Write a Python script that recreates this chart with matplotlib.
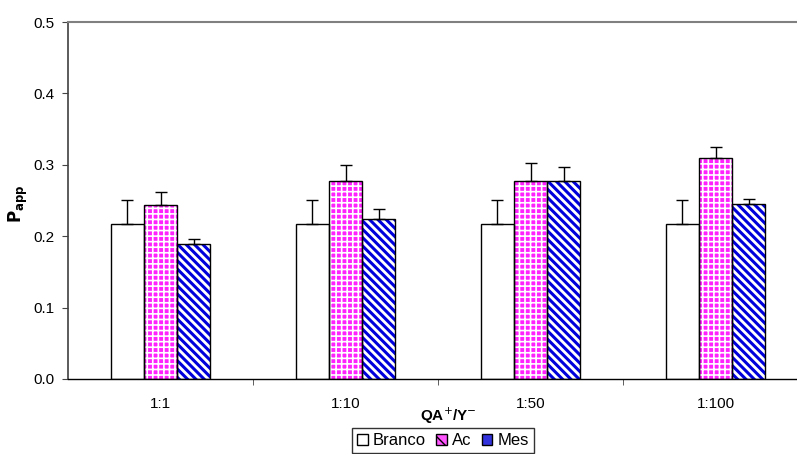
import numpy as np
import matplotlib.pyplot as plt
from matplotlib.patches import Patch

plt.rcParams['font.family'] = ['Liberation Sans', 'DejaVu Sans']

# data
categories = ["1:1", "1:10", "1:50", "1:100"]
series = ["Branco", "Ac", "Mes"]
branco = [0.217, 0.217, 0.217, 0.217]
branco_err = [0.034, 0.034, 0.034, 0.034]
ac = [0.243, 0.278, 0.277, 0.309]
ac_err = [0.019, 0.022, 0.025, 0.016]
mes = [0.189, 0.224, 0.277, 0.245]
mes_err = [0.007, 0.014, 0.020, 0.007]

fig = plt.figure(figsize=(7.97, 4.54), dpi=100)
# axes runs slightly past the right edge of the figure, like the original
ax = fig.add_axes([68 / 797, 1 - 379 / 454, 740 / 797, 357 / 454])

x = np.arange(len(categories))
w = 0.18
vals = [branco, ac, mes]
errs = [branco_err, ac_err, mes_err]
faces = ["white", "#ff22ff", "white"]
hatches = [None, "+++", "\\\\\\\\"]
hatch_cols = ["white", "white", "#0000dd"]
hatch_lw = [1.0, 1.2, 2.2]

for i in range(3):
    xs = x + (i - 1) * w
    plt.rcParams['hatch.linewidth'] = hatch_lw[i]
    # hatch layer
    ax.bar(xs, vals[i], w, color=faces[i], hatch=hatches[i],
           edgecolor=hatch_cols[i], linewidth=0, zorder=2)
    # outline + error bar
    ax.bar(xs, vals[i], w, fill=False, edgecolor="black", linewidth=1.0,
           yerr=[np.zeros(4), errs[i]], capsize=4,
           error_kw=dict(elinewidth=1.0, capthick=1.0, ecolor="black"),
           zorder=3)

ax.set_xlim(-0.5, 3.5)
ax.set_ylim(0, 0.5)
yt = np.arange(0, 0.51, 0.1)
ax.set_yticks(yt)
ax.set_yticklabels([f"{v:.1f}" for v in yt], fontsize=11)
ax.set_xticks(x)
ax.set_xticklabels(categories, fontsize=11)
ax.tick_params(axis="x", length=0, pad=13)
ax.set_xticks([0.5, 1.5, 2.5], minor=True)
ax.tick_params(axis="x", which="minor", length=4, direction="out", color="#444444")
ax.tick_params(axis="y", length=4.5, direction="out", color="#444444", pad=5)

ax.spines["right"].set_visible(False)
ax.spines["top"].set_color("#808080")
ax.spines["top"].set_linewidth(1.5)
ax.spines["left"].set_color("#404040")
ax.spines["left"].set_linewidth(1.2)
ax.spines["bottom"].set_linewidth(1.0)

fig.text(18 / 797, 1 - 204 / 454, r"$\mathbf{P_{app}}$", rotation=90,
         ha="center", va="center", fontsize=12)
fig.text(448 / 797, 1 - 416 / 454, r"QA$^{+}$/Y$^{-}$", ha="center", va="center",
         fontsize=11, fontweight="bold")

# legend proxies
plt.rcParams['hatch.linewidth'] = 1.0
proxies = [Patch(facecolor="white", edgecolor="black"),
           Patch(facecolor="#ff55ff", edgecolor="black", hatch="x"),
           Patch(facecolor="#3333dd", edgecolor="black", hatch="\\")]
leg = fig.legend(proxies, series, loc="upper center", bbox_to_anchor=(443 / 797, 1 - 428 / 454),
                 ncol=3, fontsize=12, frameon=True, fancybox=False, edgecolor="black",
                 handlelength=0.65, handleheight=0.65, handletextpad=0.3,
                 columnspacing=0.6, borderpad=0.3, borderaxespad=0)
leg.get_frame().set_linewidth(1.0)

fig.savefig("out.png", dpi=100)
